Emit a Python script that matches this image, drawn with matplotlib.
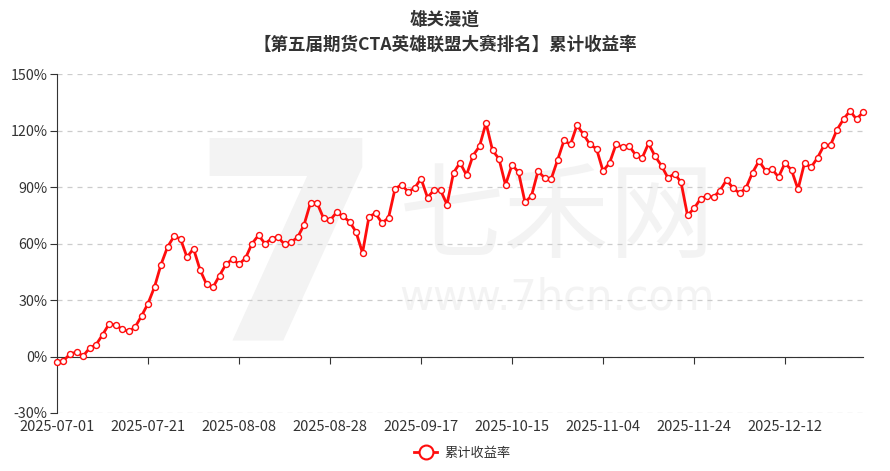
import matplotlib
matplotlib.use("Agg")
import matplotlib.pyplot as plt
from matplotlib.lines import Line2D
from matplotlib.ticker import FuncFormatter, MultipleLocator

plt.rcParams['font.family'] = ['Noto Sans CJK SC', 'DejaVu Sans']

# cumulative return (%) per trading day, 2025-07-01 .. 2025-12-30
returns = [
    -3.0, -2.3, 1.4, 2.3, 0.2, 4.4, 6.2, 11.5, 17.2, 16.7,
    14.6, 13.3, 15.5, 21.5, 28.1, 36.9, 48.8, 58.1, 63.8, 62.5,
    52.7, 57.3, 46.1, 38.4, 36.7, 43.0, 49.0, 51.7, 49.0, 52.2,
    59.9, 64.4, 59.9, 62.5, 63.5, 59.5, 60.7, 63.2, 69.8, 81.6,
    81.6, 73.5, 72.3, 76.5, 74.4, 71.6, 66.2, 55.0, 74.3, 76.0,
    70.9, 73.6, 89.0, 91.2, 87.6, 89.3, 94.5, 84.4, 88.4, 88.3,
    80.7, 97.5, 102.9, 96.3, 106.7, 111.6, 124.0, 109.5, 104.9, 91.1,
    101.8, 97.9, 81.9, 85.3, 98.4, 94.9, 94.0, 104.2, 114.7, 112.6,
    122.8, 117.9, 112.6, 110.3, 98.5, 102.7, 112.6, 111.2, 111.9, 107.1,
    105.2, 113.1, 106.4, 101.3, 94.8, 97.1, 92.6, 75.0, 78.6, 83.7,
    85.3, 84.6, 88.1, 93.7, 89.5, 86.7, 89.5, 97.6, 103.8, 98.7,
    99.5, 95.3, 102.7, 99.0, 88.8, 102.7, 100.4, 105.5, 112.1, 112.2,
    120.4, 126.0, 130.4, 126.0, 129.7,
]
tick_labels = ['2025-07-01', '2025-07-21', '2025-08-08', '2025-08-28', '2025-09-17',
               '2025-10-15', '2025-11-04', '2025-11-24', '2025-12-12']
tick_step = 14
series_name = '累计收益率'
red = '#ff0d0d'

fig = plt.figure(figsize=(8.9, 4.71), dpi=100)
ax = fig.add_axes([57 / 890, 1 - 413 / 471, 806 / 890, 339 / 471])

# watermark
ax.text(0.285, 0.44, '7', transform=ax.transAxes, fontsize=200, fontweight='bold',
        color='#f3f3f3', ha='center', va='center', zorder=0, family='DejaVu Sans')
ax.text(0.62, 0.57, '七禾网', transform=ax.transAxes, fontsize=76,
        color='#f3f3f3', ha='center', va='center', zorder=0)
ax.text(0.62, 0.34, 'www.7hcn.com', transform=ax.transAxes, fontsize=30,
        color='#f3f3f3', ha='center', va='center', zorder=0, family='DejaVu Sans')

x = list(range(len(returns)))
ax.plot(x, returns, color=red, lw=2, marker='o', ms=4.3,
        mfc='white', mec=red, mew=1, zorder=3, clip_on=False)

ax.set_xlim(0, len(returns) - 1)
ax.set_ylim(-30, 150)
ax.yaxis.set_major_locator(MultipleLocator(30))
ax.yaxis.set_major_formatter(FuncFormatter(lambda v, p: f'{v:.0f}%'))
ax.grid(axis='y', color='#cccccc', ls=(0, (4, 4)), lw=0.9)
ax.set_axisbelow(True)

ax.set_xticks(range(0, len(returns), tick_step)[:len(tick_labels)])
ax.set_xticklabels(tick_labels)

for s in ['top', 'right']:
    ax.spines[s].set_visible(False)
ax.spines['bottom'].set_position(('data', 0))
ax.spines['bottom'].set_color('#333333')
ax.spines['left'].set_color('#333333')
ax.tick_params(axis='x', length=5, color='#333333', labelsize=10.5, labelcolor='#333333', pad=41)
ax.tick_params(axis='y', length=5, color='#333333', labelsize=10.3, labelcolor='#333333', pad=2)

fig.text(0.5, 1 - 20 / 471, '雄关漫道', ha='center', va='center',
         fontsize=12.6, fontweight='bold', color='#333333')
fig.text(0.5, 1 - 45 / 471, '【第五届期货CTA英雄联盟大赛排名】累计收益率', ha='center', va='center',
         fontsize=12.6, fontweight='bold', color='#333333')

handle = Line2D([], [], color=red, lw=2, marker='o', ms=10, mfc='white', mec=red, mew=1.5)
fig.legend([handle], [series_name], loc='center', bbox_to_anchor=(462 / 890, 18 / 471),
           frameon=False, fontsize=9.5, handlelength=1.8, handletextpad=0.5,
           labelcolor='#333333')

fig.savefig('out.png', dpi=100)
